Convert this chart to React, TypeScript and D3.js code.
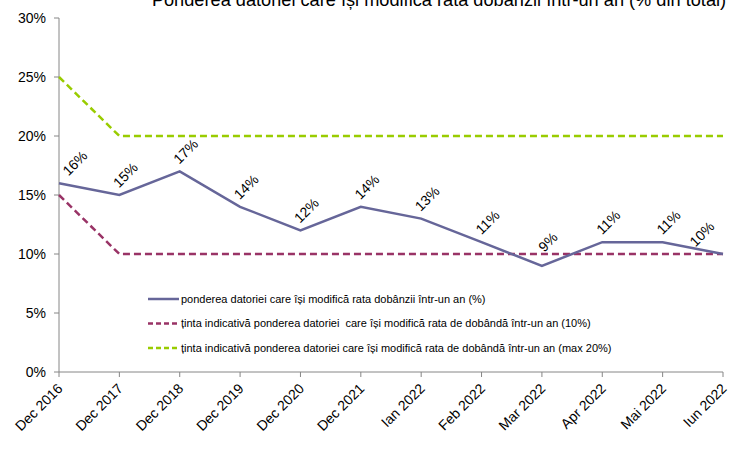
import React from "react";
import * as d3 from "d3";

const categories = ["Dec 2016","Dec 2017","Dec 2018","Dec 2019","Dec 2020","Dec 2021","Ian 2022","Feb 2022","Mar 2022","Apr 2022","Mai 2022","Iun 2022"];
const ponderea = [16.0, 15.0, 17.0, 14.0, 12.0, 14.0, 13.0, 11.0, 9.0, 11.0, 11.0, 10.0];
const tinta10 = [15, 10, 10, 10, 10, 10, 10, 10, 10, 10, 10, 10];
const tinta20 = [25, 20, 20, 20, 20, 20, 20, 20, 20, 20, 20, 20];
const yTicks = [0, 5, 10, 15, 20, 25, 30];
const title = "Ponderea datoriei care își modifică rata dobânzii într-un an (% din total)";
const legendLabels = [
  "ponderea datoriei care își modifică rata dobânzii într-un an (%)",
  "ținta indicativă ponderea datoriei  care își modifică rata de dobândă într-un an (10%)",
  "ținta indicativă ponderea datoriei care își modifică rata de dobândă într-un an (max 20%)",
];

const W = 730, H = 449;
const left = 59, right = 723, top = 18, bottom = 372;
const font = "Liberation Sans, Arial, sans-serif";
const colors = ["#666699", "#993366", "#99cc00"];
const dashes = [undefined, "7,4", "7,4"];

export default function App() {
  const x = d3.scalePoint<string>().domain(categories).range([left, right]);
  const y = d3.scaleLinear().domain([0, 30]).range([bottom, top]);
  const line = d3.line<number>().x((_, i) => x(categories[i])!).y((d) => y(d));
  const series = [ponderea, tinta10, tinta20];
  const axisColor = "#868686";
  return (
    <svg width={W} height={H} style={{ position: "absolute", left: 0, top: 0, fontFamily: font }}>
      <rect width={W} height={H} fill="#fff" />
      <text x={439} y={6} textAnchor="middle" fontSize={18.2} fill="#000">{title}</text>
      {/* axes */}
      <line x1={left} x2={left} y1={top} y2={bottom} stroke={axisColor} />
      <line x1={left} x2={right} y1={bottom} y2={bottom} stroke={axisColor} />
      {yTicks.map((t) => (
        <g key={t}>
          <line x1={left - 5} x2={left} y1={y(t)} y2={y(t)} stroke={axisColor} />
          <text x={46} y={y(t)} dy="0.35em" textAnchor="end" fontSize={14} fill="#000">{t}%</text>
        </g>
      ))}
      {categories.map((c) => (
        <g key={c}>
          <line x1={x(c)} x2={x(c)} y1={bottom} y2={bottom + 5} stroke={axisColor} />
          <text transform={`translate(${x(c)! + 1},${bottom + 14}) rotate(-45)`} textAnchor="end" dy="0.35em" fontSize={14} fill="#000">{c}</text>
        </g>
      ))}
      {/* series drawn back-to-front */}
      {[2, 1, 0].map((si) => (
        <path key={si} d={line(series[si])!} fill="none" stroke={colors[si]} strokeWidth={2.5} strokeDasharray={dashes[si]} />
      ))}
      {/* data labels, lifted clear of the 10% target line */}
      {ponderea.map((v, i) => {
        const cx = Math.max(left + 16, Math.min(x(categories[i])! + 6, right - 21));
        const cy = Math.min(y(v) - 20, y(tinta10[i]) - 12);
        return (
          <text key={i} transform={`translate(${cx},${cy}) rotate(-45)`} textAnchor="middle" dy="0.35em" fontSize={14} fill="#000">{Math.round(v)}%</text>
        );
      })}
      {/* legend */}
      {legendLabels.map((l, i) => {
        const ly = 299 + i * 24.5;
        return (
          <g key={i}>
            <line x1={148} x2={179} y1={ly} y2={ly} stroke={colors[i]} strokeWidth={2.5} strokeDasharray={i ? "5,3" : undefined} />
            <text x={181} y={ly} dy="0.35em" fontSize={11} fill="#000" style={{ whiteSpace: "pre" }}>{l}</text>
          </g>
        );
      })}
    </svg>
  );
}
